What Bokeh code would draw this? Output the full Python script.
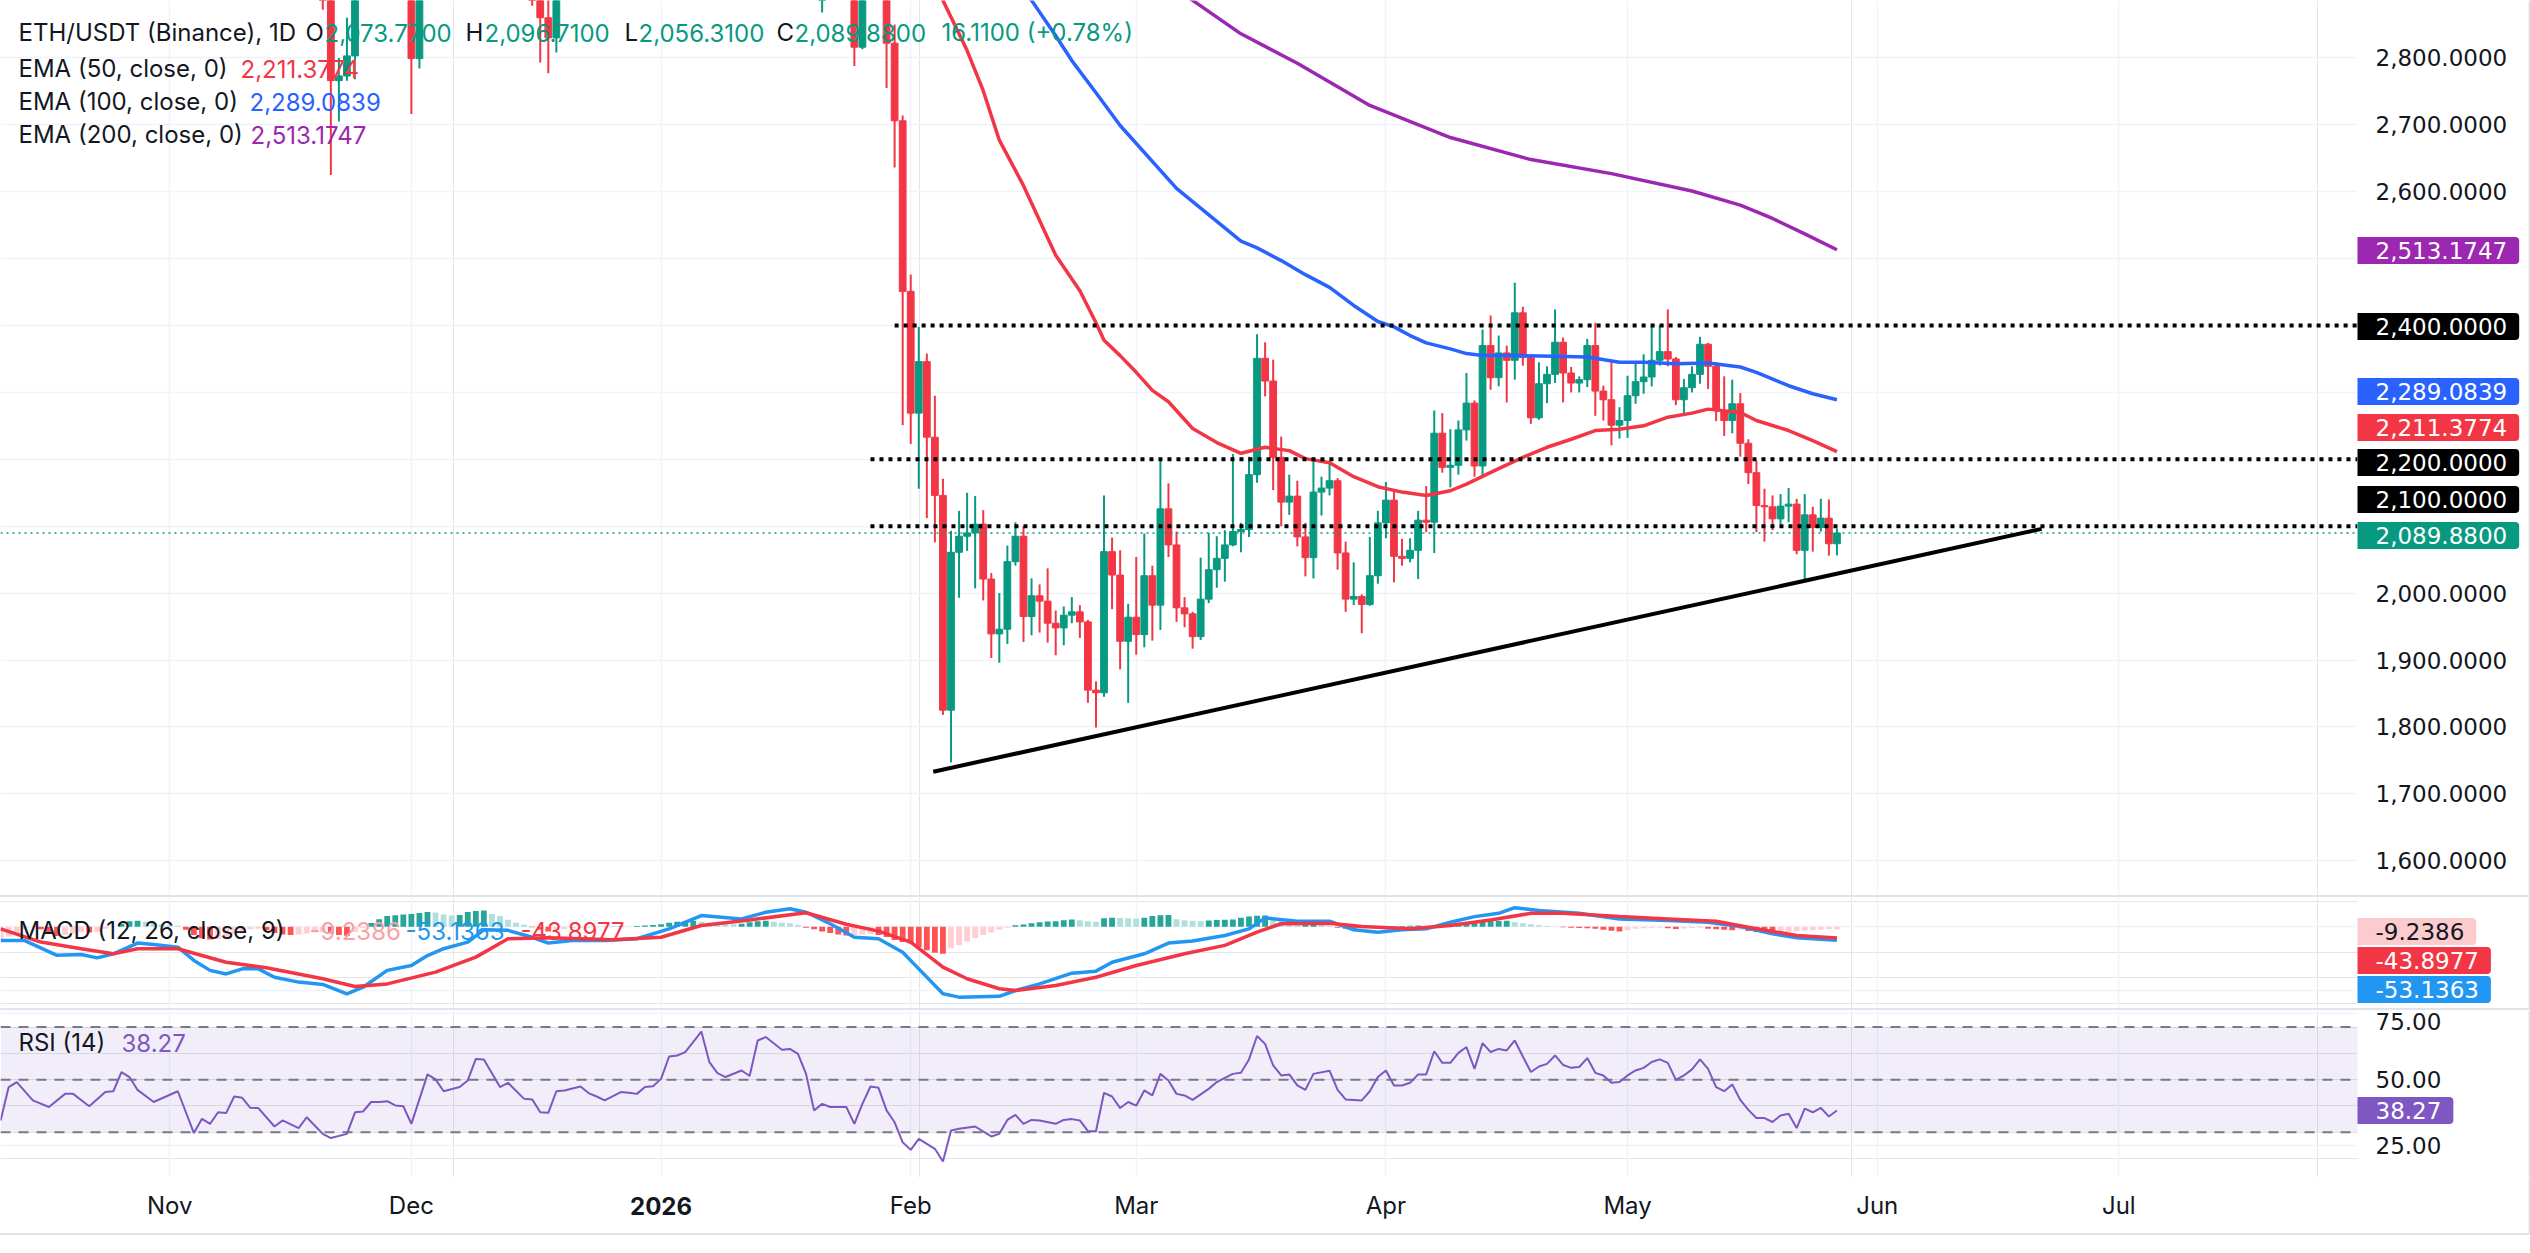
import pandas as pd
from bokeh.plotting import figure
from bokeh.models import (Range1d, FixedTicker, Grid, Label, BoxAnnotation, Span,
                          ColumnDataSource, Div)
from bokeh.layouts import column
from bokeh.embed import file_html
from bokeh.resources import INLINE
from bokeh.core.properties import value

# ------------------------------------------------------------------ data
BASE = pd.Timestamp("2025-10-11")
DAY = 86400000.0

# visible daily candles before the continuous block (bodies partly above the view)
early_dates = ["2025-11-20", "2025-11-21", "2025-11-22", "2025-11-23", "2025-11-24",
               "2025-12-01", "2025-12-02", "2025-12-16", "2025-12-17", "2025-12-18",
               "2025-12-19", "2026-01-21", "2026-01-25", "2026-01-26"]
early_open = [3030, 2925, 2766, 2773, 2803, 3000, 2799, 2960, 2935, 2860, 2830, 2900, 2950, 2816]
early_high = [3070, 2950, 2800, 2860, 2990, 3030, 3050, 2995, 2990, 2990, 3000, 2990, 2975, 2930]
early_low = [2872, 2625, 2705, 2766, 2768, 2716, 2784, 2878, 2793, 2777, 2808, 2868, 2788, 2813]
early_close = [2925, 2766, 2773, 2803, 2955, 2799, 2995, 2935, 2860, 2830, 2975, 2950, 2816, 2900]

# continuous daily block 2026-01-29 .. 2026-05-27
block_start = "2026-01-29"
o = [2950, 2822, 2706, 2451, 2269, 2346, 2233, 2146, 1825, 2061, 2085, 2090, 2103, 2021, 1939, 1946,
     2047, 2085, 1965, 1996, 1988, 1955, 1948, 1967, 1972, 1957, 1855, 1851, 2062, 2027, 1928, 1964,
     1938, 2026, 1982, 2126, 2072, 1978, 1969, 1935, 1991, 2035, 2052, 2072, 2092, 2095, 2177, 2351,
     2317, 2203, 2136, 2145, 2084, 2053, 2151, 2157, 2168, 2060, 1991, 1995, 1983, 2026, 2105, 2139,
     2055, 2052, 2064, 2109, 2106, 2239, 2188, 2191, 2244, 2284, 2190, 2370, 2322, 2359, 2348, 2419,
     2352, 2262, 2313, 2327, 2375, 2329, 2314, 2319, 2370, 2302, 2289, 2251, 2258, 2295, 2316, 2323,
     2348, 2361, 2350, 2289, 2307, 2327, 2372, 2339, 2273, 2258, 2283, 2224, 2180, 2131, 2129, 2111,
     2130, 2133, 2064, 2117, 2098, 2112, 2073.77]
h = [2970, 2850, 2714, 2476, 2398, 2358, 2295, 2171, 2093, 2123, 2150, 2145, 2124, 2030, 2000, 2071,
     2106, 2100, 2022, 2013, 2037, 1974, 1980, 1994, 1982, 1960, 1868, 2146, 2083, 2064, 1984, 2054,
     2089, 2041, 2198, 2164, 2092, 1994, 1972, 2053, 2090, 2085, 2094, 2208, 2105, 2204, 2387, 2375,
     2349, 2234, 2177, 2168, 2105, 2197, 2174, 2198, 2172, 2077, 2046, 1998, 2084, 2123, 2166, 2152,
     2081, 2082, 2123, 2160, 2273, 2269, 2245, 2258, 2329, 2288, 2394, 2415, 2385, 2370, 2464, 2428,
     2355, 2345, 2339, 2424, 2382, 2338, 2324, 2380, 2404, 2310, 2345, 2278, 2325, 2347, 2357, 2399,
     2400, 2424, 2353, 2320, 2339, 2383, 2374, 2345, 2324, 2319, 2299, 2230, 2198, 2156, 2146, 2148,
     2157, 2141, 2148, 2129, 2141, 2140, 2096.71]
l = [2755, 2636, 2251, 2223, 2156, 2112, 2076, 1818, 1747, 1993, 2063, 2007, 1989, 1903, 1896, 1924,
     2041, 1927, 1937, 1941, 1926, 1907, 1922, 1955, 1933, 1836, 1799, 1845, 1976, 1886, 1836, 1908,
     1919, 1929, 1945, 2054, 1957, 1949, 1917, 1930, 1985, 2008, 2017, 2070, 2061, 2084, 2165, 2294,
     2154, 2100, 2117, 2070, 2025, 2022, 2116, 2146, 2035, 1972, 1982, 1940, 1981, 2014, 2082, 2016,
     2041, 2046, 2021, 2091, 2060, 2180, 2158, 2177, 2228, 2174, 2176, 2304, 2309, 2285, 2319, 2340,
     2253, 2259, 2284, 2314, 2285, 2300, 2300, 2308, 2265, 2258, 2221, 2231, 2232, 2283, 2298, 2309,
     2340, 2339, 2281, 2266, 2300, 2313, 2305, 2257, 2235, 2239, 2204, 2163, 2091, 2077, 2094, 2103,
     2106, 2058, 2021, 2062, 2092, 2056, 2056.31]
c = [2822, 2706, 2451, 2269, 2346, 2233, 2146, 1825, 2061, 2085, 2090, 2103, 2021, 1939, 1946, 2047,
     2085, 1965, 1996, 1988, 1955, 1948, 1967, 1972, 1957, 1855, 1851, 2062, 2027, 1928, 1964, 1938,
     2026, 1982, 2126, 2072, 1978, 1969, 1935, 1991, 2035, 2052, 2072, 2092, 2095, 2177, 2351, 2317,
     2203, 2136, 2145, 2084, 2053, 2151, 2157, 2168, 2060, 1991, 1995, 1983, 2026, 2105, 2139, 2055,
     2052, 2064, 2109, 2106, 2239, 2188, 2191, 2244, 2284, 2190, 2370, 2322, 2359, 2348, 2419, 2352,
     2262, 2313, 2327, 2375, 2329, 2314, 2319, 2370, 2302, 2289, 2251, 2258, 2295, 2316, 2323, 2348,
     2361, 2350, 2289, 2307, 2327, 2372, 2339, 2273, 2258, 2283, 2224, 2180, 2131, 2129, 2111, 2130,
     2133, 2064, 2117, 2098, 2112, 2073.77, 2089.88]

# EMA lines (day offset from 2025-10-11, value)
ema50_day = [113, 117, 120, 122, 124, 127, 129, 131, 134, 136, 137, 139, 141, 143, 145, 148, 151, 154,
             157, 160, 162, 165, 168, 171, 174, 177, 180, 182, 186, 189, 192, 195, 198, 201, 204, 207,
             210, 212, 216, 218, 222, 225, 228]
ema50_val = [2990, 2886, 2811, 2751, 2677, 2609, 2557, 2505, 2452, 2404, 2378, 2355, 2330, 2303, 2286,
             2246, 2225, 2209, 2218, 2213, 2201, 2195, 2174, 2159, 2151, 2146, 2153, 2163, 2186, 2203,
             2218, 2230, 2243, 2245, 2250, 2263, 2269, 2275, 2270, 2258, 2243, 2228, 2211.3774]
ema100_day = [126, 128, 131, 133, 136, 139, 146, 154, 156, 159, 162, 165, 168, 171, 173, 175, 177, 180,
              182, 184, 189, 193, 197, 201, 204, 208, 212, 216, 218, 222, 225, 228]
ema100_val = [2915, 2886, 2833, 2796, 2748, 2699, 2605, 2526, 2516, 2497, 2476, 2457, 2430, 2406, 2398,
              2385, 2374, 2365, 2358, 2355, 2355, 2354, 2353, 2345, 2345, 2343, 2344, 2338, 2330, 2310,
              2298, 2289.0839]
ema200_day = [145, 148, 154, 161, 170, 180, 190, 200, 210, 216, 220, 224, 228]
ema200_val = [2910, 2886, 2836, 2792, 2729, 2681, 2648, 2627, 2601, 2580, 2560, 2537, 2513.1747]

# user drawings
level_prices = [2400, 2200, 2100]
level_start = ["2026-01-30", "2026-01-27", "2026-01-27"]
trend_dates = ["2026-02-03 19:00", "2026-06-21 10:00"]
trend_prices = [1733, 2096]
last_price = 2089.88

# MACD (12, 26, close, 9)
macd_day = [0, 3, 7, 10, 12, 14, 17, 19, 22, 24, 26, 28, 30, 32, 34, 37, 40, 43, 45, 48, 51, 53, 55, 58,
            60, 63, 66, 68, 71, 75, 79, 83, 87, 92, 95, 98, 100, 103, 106, 109, 112, 114, 117, 119,
            124, 126, 129, 133, 136, 138, 142, 145, 148, 152, 155, 157, 161, 165, 168, 171, 174, 177,
            180, 183, 186, 188, 191, 196, 201, 207, 212, 216, 220, 223, 228]
macd_val = [-54, -54, -112, -109, -122, -106, -64, -69, -80, -132, -171, -185, -165, -165, -198, -217,
            -226, -263, -237, -171, -152, -113, -86, -60, -12, -14, -41, -64, -54, -54, -47, -8, 44, 31,
            57, 71, 57, 12, -41, -47, -100, -165, -263, -276, -273, -250, -224, -182, -174, -139, -106,
            -64, -56, -34, -8, 35, 22, 22, -12, -21, -12, -8, 18, 40, 53, 75, 64, 53, 31, 25, 18, 1,
            -27, -43, -53.1363]
signal_day = [0, 5, 10, 14, 17, 22, 28, 33, 40, 44, 48, 54, 59, 63, 68, 76, 82, 87, 93, 100, 105, 109,
              113, 117, 120, 124, 126, 131, 136, 141, 147, 152, 156, 159, 165, 169, 175, 180, 185, 190,
              194, 201, 207, 213, 218, 223, 228]
signal_val = [-8, -60, -86, -106, -86, -86, -139, -161, -204, -234, -224, -178, -119, -47, -43, -51, -41,
              5, 27, 55, 10, -17, -60, -158, -204, -243, -250, -230, -198, -152, -106, -73, -21, 12, 14,
              1, -8, 5, 27, 53, 53, 40, 31, 22, -8, -34, -43.8977]
# histogram, one bar per day from 2025-10-11
hist_val = [-46, -38, -24, -8, -2, -10, -24, -36, -32, -26, -20, -22, -20, -8,
            0, 12, 22, 24, 20, 16, 10, 8, 4, -12,
            -32, -45, -50, -48, -40, -28, -16, -10, -8, -14,
            -24, -30, -32, -30, -26, -22, -20, -26, -32, -35,
            -20, -5, 15, 30, 42, 45, 48, 50,
            54, 58, 56, 48, 44, 46, 58, 62, 64, 50, 42, 28, 16, 8,
            -2, -12, -18, -14, -10, -6, -4, -3, -2, -2, 1, 2, 1, 3,
            5, 7, 10, 16, 20, 22, 24, 20, 16, 14, 12, 10, 12, 18, 22, 24, 20, 16, 14, 8,
            -4, -10, -18, -24, -30, -34, -32, -30, -28, -32, -40, -52, -60,
            -66, -80, -92, -102, -106, -84, -72, -58, -44, -32, -22, -12, -4,
            6, 9, 14, 18, 21, 22, 26, 29, 26, 22, 20, 34, 36, 35, 34, 33, 36, 42, 45, 46,
            30, 26, 24, 22, 25, 27, 28, 29, 36, 40, 43, 44, 30, 22, 16, 10, 12, 14, 8, 3,
            -4, -8, -10, -6, -3, -1, 1, 2, 3, 4, 5, 3, 6, 8, 12,
            16, 18, 20, 21, 22, 23, 24, 18, 14, 10, 6, 3, 1, -2, -4,
            -5, -6, -8, -12, -15, -18, -14, -8, -6, -4, -3, -6, -9, -7, -5, -4, -8, -10,
            -12, -14, -12, -16, -20, -22, -24, -21, -19, -16, -15, -13, -12, -10, -9.2386]

# RSI (14)
rsi_day = [0, 1, 2, 4, 6, 8, 9, 11, 13, 14, 15, 16, 17, 19, 22, 24, 25, 26, 27, 28, 29, 30, 31, 32, 34,
           35, 37, 38, 40, 41, 43, 44, 45, 46, 47, 48, 49, 50, 51, 53, 54, 55, 57, 58, 59, 60, 62, 63,
           65, 66, 67, 68, 69, 70, 72, 73, 74, 75, 77, 78, 79, 80, 81, 82, 83, 84, 85, 87, 88, 89, 90,
           92, 93, 94, 95, 97, 98, 99, 100, 101, 102, 103, 105, 106, 107, 108, 109, 110, 111, 112, 113,
           114, 116, 117, 118, 119, 121, 123, 124, 125, 126, 127, 128, 129, 131, 132, 133, 134, 135,
           136, 137, 138, 139, 140, 141, 142, 143, 144, 145, 146, 147, 148, 150, 151, 152, 153, 154,
           155, 156, 157, 158, 159, 160, 161, 162, 163, 165, 166, 167, 169, 170, 171, 172, 173, 174,
           175, 176, 177, 178, 179, 180, 181, 182, 183, 184, 185, 186, 187, 188, 189, 190, 191, 192,
           193, 194, 195, 196, 197, 198, 199, 200, 201, 202, 203, 204, 205, 206, 207, 208, 209, 210,
           211, 212, 213, 214, 215, 216, 217, 218, 219, 220, 221, 222, 223, 224, 225, 226, 227, 228]
rsi_val = [34.5, 47.2, 49.1, 42.1, 39.6, 44.6, 44.6, 39.9, 45.3, 45.6, 52.9, 51.0, 46.1, 41.5, 45.6,
           29.7, 35.1, 33.2, 37.6, 37.3, 43.6, 43.1, 39.3, 39.2, 32.2, 34.5, 31.6, 35.7, 29.4, 27.8,
           29.4, 37.6, 37.9, 41.5, 41.5, 41.8, 40.2, 39.9, 33.2, 52.0, 50.1, 45.6, 47.2, 49.7, 57.9,
           57.7, 47.2, 48.8, 42.7, 42.5, 37.6, 37.4, 45.6, 45.9, 47.4, 44.9, 43.6, 42.1, 45.3, 45.0,
           44.6, 47.2, 47.5, 50.3, 58.8, 59.2, 60.5, 68.3, 56.7, 52.5, 51.0, 53.5, 51.4, 64.9, 66.2,
           61.4, 61.7, 59.8, 52.2, 38.3, 40.8, 39.6, 39.6, 33.2, 40.8, 47.4, 46.9, 38.3, 33.8, 26.2,
           23.3, 27.5, 23.7, 18.9, 30.7, 31.3, 32.2, 28.4, 29.4, 34.7, 36.6, 33.2, 34.7, 34.5, 33.2,
           34.7, 35.0, 34.5, 30.4, 30.4, 45.0, 43.6, 39.2, 41.5, 40.1, 45.9, 44.0, 52.2, 49.7, 44.6,
           44.0, 42.3, 46.5, 49.1, 50.7, 52.2, 52.6, 57.7, 66.6, 63.6, 55.4, 51.6, 52.0, 47.8, 46.1,
           52.2, 53.4, 46.1, 42.5, 42.1, 45.6, 51.0, 53.5, 47.8, 47.8, 48.8, 52.0, 52.0, 60.8, 56.4,
           56.4, 60.2, 62.4, 54.1, 63.9, 60.5, 61.7, 61.1, 64.9, 58.8, 52.9, 55.0, 56.0, 59.2, 55.6,
           54.5, 54.8, 58.2, 52.6, 51.6, 48.8, 49.1, 51.6, 53.5, 54.5, 56.7, 57.7, 56.4, 49.9, 51.6,
           53.9, 57.7, 54.1, 47.2, 45.6, 48.2, 42.3, 38.5, 35.4, 35.4, 33.9, 36.4, 37.0, 31.6, 39.0,
           37.6, 39.3, 36.0, 38.27]

month_ticks = ["2025-11-01", "2025-12-01", "2026-01-01", "2026-02-01", "2026-03-01", "2026-04-01",
               "2026-05-01", "2026-06-01", "2026-07-01"]
month_labels = ["Nov", "Dec", "2026", "Feb", "Mar", "Apr", "May", "Jun", "Jul"]
price_grid = [1600, 1700, 1800, 1900, 2000, 2100, 2200, 2300, 2400, 2500, 2600, 2700, 2800]
price_axis_ticks = [1600, 1700, 1800, 1900, 2000, 2600, 2700, 2800]
rsi_axis_ticks = [25, 50, 75]

# ------------------------------------------------------------------ helpers
TEXT = "#131722"
UP = "#089981"
DN = "#F23645"
GRID = "#F0F3FA"
SEP = "#E0E3EB"
W_ALL = 2530
X_AXIS = 2357          # pixel where the price scale begins
PX_PER_DAY = 8.054


def to_ms(dates):
    return [pd.Timestamp(d).value / 1e6 for d in dates]


def days_ms(days):
    return [(BASE + pd.Timedelta(days=float(d))).value / 1e6 for d in days]


base_ms = BASE.value / 1e6
xr = Range1d(start=base_ms - 0.13 / PX_PER_DAY * DAY,
             end=base_ms + (W_ALL - 0.13) / PX_PER_DAY * DAY)
axis_ms = base_ms + (X_AXIS - 0.13) / PX_PER_DAY * DAY
month_ms = to_ms(month_ticks)


def make_fig(hgt, yr):
    f = figure(frame_width=W_ALL, frame_height=hgt, x_range=xr, y_range=yr,
               output_backend="svg", toolbar_location=None, x_axis_location=None,
               y_axis_location=None, min_border_left=0, min_border_right=0, min_border_top=0,
               min_border_bottom=0, background_fill_color="white", border_fill_color="white",
               outline_line_color=None)
    f.add_layout(Grid(dimension=0, ticker=FixedTicker(ticks=month_ms),
                      grid_line_color=GRID, grid_line_width=1.5))
    return f


def scale_area(f, yr):
    # white price-scale strip at the right, with the outer border line
    f.quad(left=[axis_ms], right=[xr.end], bottom=[yr.start], top=[yr.end],
           fill_color="white", line_color=None)
    f.add_layout(Span(location=xr.end - 1.0 / PX_PER_DAY * DAY, dimension="height",
                      line_color=SEP, line_width=2))


def scale_labels(f, ticks, labels, baseline="middle"):
    f.text(x=[axis_ms] * len(ticks), y=ticks, text=labels, x_offset=18,
           text_font=value("DejaVu Sans"), text_font_size="23px", text_color=TEXT,
           text_align="left", text_baseline=baseline)


def badge(f, hgt, y_top, text, bg, fg="white"):
    # padding given as (left, right, top, bottom)
    f.add_layout(Label(x=X_AXIS, y=hgt - y_top, x_units="screen", y_units="screen", text=text,
                       text_font="DejaVu Sans", text_font_size="23px", text_color=fg,
                       text_baseline="middle", text_align="left",
                       background_fill_color=bg, background_fill_alpha=1.0,
                       padding=(18, 12, 5, 5), border_radius=(0, 4, 4, 0)))


def legend(f, hgt, y_top, parts, size="24px"):
    for x, txt, col in parts:
        f.add_layout(Label(x=x, y=hgt - y_top, x_units="screen", y_units="screen", text=txt,
                           text_font="Inter", text_font_size=size, text_color=col,
                           text_baseline="middle", text_align="left"))


# ------------------------------------------------------------------ price pane
HP = 895
yr_p = Range1d(1548.0, 2885.8)
p = make_fig(HP, yr_p)
p.add_layout(Grid(dimension=1, ticker=FixedTicker(ticks=price_grid),
                  grid_line_color=GRID, grid_line_width=1.5))

c_dates = early_dates + [str(d.date()) for d in pd.date_range(block_start, periods=len(c))]
c_open = early_open + o
c_high = early_high + h
c_low = early_low + l
c_close = early_close + c
src = ColumnDataSource(dict(
    x=to_ms(c_dates), high=c_high, low=c_low,
    top=[max(a, b) for a, b in zip(c_open, c_close)],
    bottom=[min(a, b) for a, b in zip(c_open, c_close)],
    color=[UP if cl >= op else DN for op, cl in zip(c_open, c_close)]))
p.segment(x0="x", y0="high", x1="x", y1="low", line_color="color", line_width=2, source=src)
p.vbar(x="x", width=0.84 * DAY, top="top", bottom="bottom", fill_color="color",
       line_color="color", line_width=1, source=src)

p.line(days_ms(ema200_day), ema200_val, line_color="#9C27B0", line_width=3.5)
p.line(days_ms(ema100_day), ema100_val, line_color="#2962FF", line_width=3.5)
p.line(days_ms(ema50_day), ema50_val, line_color="#F23645", line_width=3.5)

p.segment(x0=[xr.start], y0=[last_price], x1=[axis_ms], y1=[last_price],
          line_color=UP, line_width=1.5, line_dash="2 4")
p.segment(x0=to_ms(level_start), y0=level_prices, x1=[axis_ms] * 3, y1=level_prices,
          line_color="black", line_width=4, line_dash="4 5")
p.line(to_ms(trend_dates), trend_prices, line_color="black", line_width=4)

scale_area(p, yr_p)
scale_labels(p, price_axis_ticks, [f"{v:,.4f}" for v in price_axis_ticks])

legend(p, HP, 32, [(18, "ETH/USDT (Binance), 1D", TEXT), (305, "O", TEXT), (324, "2,073.7700", UP),
                   (465, "H", TEXT), (484, "2,096.7100", UP), (624, "L", TEXT), (638, "2,056.3100", UP),
                   (776, "C", TEXT), (794, "2,089.8800", UP), (941, "16.1100 (+0.78%)", UP)])
legend(p, HP, 68, [(18, "EMA (50, close, 0)", TEXT), (240, "2,211.3774", "#F23645")])
legend(p, HP, 101, [(18, "EMA (100, close, 0)", TEXT), (249, "2,289.0839", "#2962FF")])
legend(p, HP, 134, [(18, "EMA (200, close, 0)", TEXT), (250, "2,513.1747", "#9C27B0")])

badge(p, HP, 250, "2,513.1747", "#9C27B0")
badge(p, HP, 326, "2,400.0000", "#000000")
badge(p, HP, 391, "2,289.0839", "#2962FF")
badge(p, HP, 427, "2,211.3774", "#F23645")
badge(p, HP, 462, "2,200.0000", "#000000")
badge(p, HP, 499, "2,100.0000", "#000000")
badge(p, HP, 535, "2,089.8800", UP)

# ------------------------------------------------------------------ MACD pane
HM = 111
yr_m = Range1d(-320.6, 115.0)
m = make_fig(HM, yr_m)
m.add_layout(Grid(dimension=1, ticker=FixedTicker(ticks=[0, -250]),
                  grid_line_color=GRID, grid_line_width=1.5))
hist_x = [(BASE + pd.Timedelta(days=i)).value / 1e6 for i in range(len(hist_val))]
hist_col = []
for i, v in enumerate(hist_val):
    prev = hist_val[i - 1] if i > 0 else v
    if v >= 0:
        hist_col.append("#26A69A" if v >= prev else "#B2DFDB")
    else:
        hist_col.append("#FF5252" if v < prev else "#FFCDD2")
m.vbar(x=hist_x, width=0.72 * DAY, top=[max(v, 0) for v in hist_val],
       bottom=[min(v, 0) for v in hist_val], fill_color=hist_col, line_color=None)
m.line(days_ms(macd_day), macd_val, line_color="#2196F3", line_width=3.5)
m.line(days_ms(signal_day), signal_val, line_color="#F23645", line_width=3.5)
scale_area(m, yr_m)
legend(m, HM, 33, [(18, "MACD (12, 26, close, 9)", TEXT), (309, "-9.2386", "#F7A1A8"),
                   (405, "-53.1363", "#2196F3"), (520, "-43.8977", "#F23645")])
badge(m, HM, 34, "-9.2386", "#FCCBCD", fg=TEXT)
badge(m, HM, 63, "-43.8977", "#F23645")
badge(m, HM, 92, "-53.1363", "#2196F3")

# ------------------------------------------------------------------ RSI pane
HR = 167
yr_r = Range1d(12.8, 76.3)
r = make_fig(HR, yr_r)
r.add_layout(Grid(dimension=1, ticker=FixedTicker(ticks=[25, 75]),
                  grid_line_color=GRID, grid_line_width=1.5))
r.add_layout(BoxAnnotation(left=xr.start, right=axis_ms, bottom=30, top=70,
                           fill_color="#7E57C2", fill_alpha=0.1, line_color=None))
r.segment(x0=[xr.start] * 3, y0=[70, 50, 30], x1=[axis_ms] * 3, y1=[70, 50, 30],
          line_color="#787B86", line_width=2, line_dash="10 8")
r.line(days_ms(rsi_day), rsi_val, line_color="#7E57C2", line_width=2)
scale_area(r, yr_r)
scale_labels(r, rsi_axis_ticks[:2], [f"{v:.2f}" for v in rsi_axis_ticks[:2]])
scale_labels(r, [75.4], [f"{rsi_axis_ticks[2]:.2f}"], baseline="top")
legend(r, HR, 32, [(18, "RSI (14)", TEXT), (121, "38.27", "#7E57C2")])
badge(r, HR, 100, "38.27", "#7E57C2")

# ------------------------------------------------------------------ time axis strip
HT = 56
t = make_fig(HT, Range1d(0, 1))
t.center = []
t.add_layout(Span(location=xr.end - 1.0 / PX_PER_DAY * DAY, dimension="height",
                  line_color=SEP, line_width=2))
norm_idx = [i for i, s in enumerate(month_labels) if s != "2026"]
bold_idx = [i for i, s in enumerate(month_labels) if s == "2026"]
t.text(x=[month_ms[i] for i in norm_idx], y=[0.5] * len(norm_idx),
       text=[month_labels[i] for i in norm_idx], text_font=value("Inter"),
       text_font_size="24px", text_color=TEXT, text_align="center", text_baseline="middle")
t.text(x=[month_ms[i] for i in bold_idx], y=[0.5] * len(bold_idx),
       text=[month_labels[i] for i in bold_idx], text_font=value("Inter"),
       text_font_size="24px", text_font_style="bold", text_color=TEXT,
       text_align="center", text_baseline="middle")


def sep():
    return Div(width=W_ALL, height=2, margin=(0, 0, 0, 0),
               styles={"background-color": SEP})


layout = column(p, sep(), m, sep(), r, t, sep(), spacing=0)
open("out.html", "w").write(file_html(layout, INLINE))
